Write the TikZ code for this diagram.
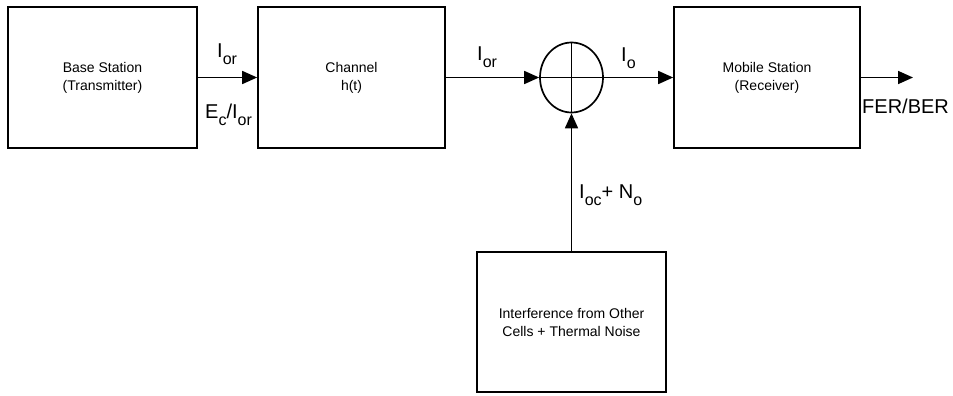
\documentclass[tikz,border=0pt]{standalone}
\usepackage{fontspec}
\setmainfont{Liberation Sans}
\usetikzlibrary{arrows.meta,shapes.geometric}
\newcommand\subx[1]{\raisebox{-7pt}{\fontsize{16}{16}\selectfont #1}}
\begin{document}
\begin{tikzpicture}[x=1pt,y=-1pt,
  blk/.style={draw,line width=1.7pt,inner sep=0pt,align=center,
    font=\fontsize{14}{18}\selectfont},
  lbl/.style={inner sep=0pt,font=\fontsize{20}{20}\selectfont},
  arr/.style={line width=1.7pt,-{Triangle[length=15pt,width=13pt]}},
  ln/.style={line width=1.7pt}]
\useasboundingbox (0,0) rectangle (953,396);
\node[blk,minimum width=189pt,minimum height=141pt] (bs) at (102.5,77.5) {Base Station\\(Transmitter)};
\node[blk,minimum width=187pt,minimum height=141pt] (ch) at (351.5,77.5) {Channel\\h(t)};
\node[blk,minimum width=186pt,minimum height=141pt] (ms) at (767,77.5) {Mobile Station\\(Receiver)};
\node[blk,minimum width=189pt,minimum height=140pt] (nz) at (571.5,322) {Interference from Other\\Cells + Thermal Noise};
\node[draw,ellipse,line width=1.7pt,minimum width=63pt,minimum height=70pt,inner sep=0pt] (sum) at (571.5,77.5) {};
\draw[ln] (sum.north) -- (sum.south);
\draw[ln] (sum.west) -- (sum.east);
\coordinate (out) at (913,77.5);
\draw[arr] (bs.east) -- (ch.west);
\draw[arr] (ch.east) -- (sum.west);
\draw[arr] (sum.east) -- (ms.west);
\draw[arr] (ms.east) -- (out);
\draw[arr] (nz.north) -- (sum.south);
\node[lbl,anchor=base west] (l1) at (217,58) {I\subx{or}};
\node[lbl,anchor=base west] (l2) at (205,118) {E\subx{c}/I\subx{or}};
\node[lbl,anchor=base west] (l3) at (477,60) {I\subx{or}};
\node[lbl,anchor=base west] (l4) at (621,62) {I\subx{o}};
\node[lbl,anchor=base west] (l5) at (579,198) {I\subx{oc}+ N\subx{o}};
\node[lbl,anchor=base west] (l6) at (862,113) {FER/BER};
\end{tikzpicture}
\end{document}
